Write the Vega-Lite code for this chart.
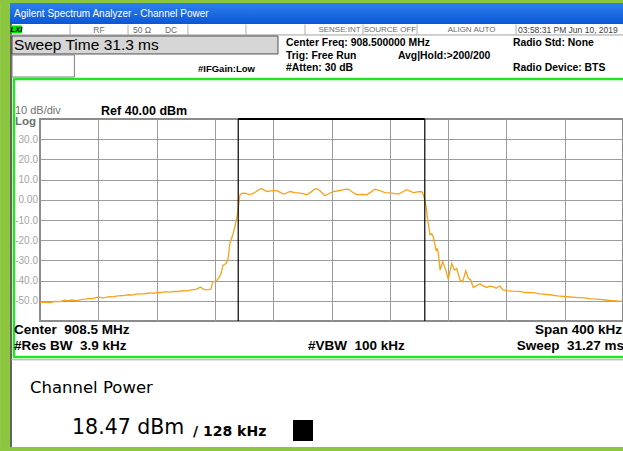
{
  "$schema": "https://vega.github.io/schema/vega-lite/v6.json",
  "autosize": {"type": "none"},
  "padding": {"left": 40, "top": 119, "right": 0, "bottom": 130},
  "width": 583,
  "height": 202,
  "background": "white",
  "data": {"values": [{}]},
  "resolve": {"axis": {"x": "independent", "y": "independent"}},
  "config": {
    "view": {"stroke": "#8c8c8c", "strokeWidth": 2},
    "text": {"font": "Liberation Sans", "baseline": "middle", "align": "left", "color": "#000000"}
  },
  "layer": [
    {"mark": {"type": "rule", "color": "#303030", "strokeWidth": 1.5}, "encoding": {"x": {"datum": -219.9, "type": "quantitative", "axis": null}, "y": {"datum": 87.0, "type": "quantitative", "axis": null}, "y2": {"datum": -122.4}}},
    {"mark": {"type": "rule", "color": "#22e622", "strokeWidth": 2.5}, "encoding": {"x": {"datum": -218.5, "type": "quantitative", "axis": null}, "x2": {"datum": 211.7}, "y": {"datum": 59.8, "type": "quantitative", "axis": null}}},
    {"mark": {"type": "rule", "color": "#22e622", "strokeWidth": 2.5}, "encoding": {"x": {"datum": -217.9, "type": "quantitative", "axis": null}, "y": {"datum": 59.8, "type": "quantitative", "axis": null}, "y2": {"datum": -77.8}}},
    {"mark": {"type": "rule", "color": "#22e622", "strokeWidth": 2.5}, "encoding": {"x": {"datum": -218.5, "type": "quantitative", "axis": null}, "x2": {"datum": 211.7}, "y": {"datum": -77.8, "type": "quantitative", "axis": null}}},
    {"mark": {"type": "rule", "color": "#a8a8a8", "strokeWidth": 1}, "encoding": {"x": {"datum": -219.9, "type": "quantitative", "axis": null}, "x2": {"datum": 211.7}, "y": {"datum": -79.2, "type": "quantitative", "axis": null}}},
    {
      "data": {"values": [
        {"f":-200,"p":-50.8},{"f":-196,"p":-50.6},{"f":-193,"p":-50.9},{"f":-190,"p":-50.3},{"f":-186,"p":-50.4},{"f":-183,"p":-49.7},{"f":-181,"p":-49.9},{"f":-178,"p":-49.6},{"f":-175,"p":-49.9},{"f":-172,"p":-49.4},{"f":-169,"p":-49.2},{"f":-166,"p":-48.8},{"f":-164,"p":-48.9},{"f":-161,"p":-48.3},{"f":-159.5,"p":-48.2},{"f":-157,"p":-48.5},{"f":-155,"p":-48.3},{"f":-152,"p":-47.9},{"f":-150,"p":-48.1},{"f":-147,"p":-47.6},{"f":-145,"p":-47.5},{"f":-142,"p":-47.3},{"f":-139,"p":-47.0},{"f":-137,"p":-47.2},{"f":-134,"p":-46.7},{"f":-131,"p":-46.6},{"f":-128,"p":-46.5},{"f":-125,"p":-46.1},{"f":-122,"p":-46.3},{"f":-120,"p":-45.8},{"f":-117,"p":-45.9},{"f":-114,"p":-45.5},{"f":-111,"p":-45.7},{"f":-108,"p":-45.3},{"f":-105,"p":-45.4},{"f":-102,"p":-45.0},{"f":-99,"p":-45.1},{"f":-96,"p":-44.6},{"f":-93,"p":-44.3},{"f":-91,"p":-43.6},{"f":-90,"p":-43.2},{"f":-89,"p":-43.7},{"f":-88,"p":-44.2},{"f":-86,"p":-44.6},{"f":-84,"p":-44.5},{"f":-82.7,"p":-44.2},{"f":-81.8,"p":-41.5},{"f":-81.3,"p":-40.5},{"f":-80,"p":-40.4},{"f":-78.8,"p":-40.0},{"f":-77.2,"p":-38.5},{"f":-75.8,"p":-36.5},{"f":-74.5,"p":-32.5},{"f":-73.5,"p":-32.0},{"f":-72.4,"p":-31.5},{"f":-71.0,"p":-29.5},{"f":-70.3,"p":-25},{"f":-69.7,"p":-21.5},{"f":-68.5,"p":-19},{"f":-67.4,"p":-16.5},{"f":-66.2,"p":-13.0},{"f":-64.6,"p":-7.5},{"f":-63.8,"p":-3},{"f":-63.3,"p":0},{"f":-62.8,"p":2.5},{"f":-61.5,"p":3.2},{"f":-59.3,"p":3.3},{"f":-57,"p":2.7},{"f":-54.8,"p":2.8},{"f":-51.8,"p":4.0},{"f":-49.5,"p":5.2},{"f":-47.9,"p":5.5},{"f":-46,"p":4.8},{"f":-44.5,"p":4.1},{"f":-41.5,"p":4.4},{"f":-37.6,"p":4.6},{"f":-35.5,"p":3.8},{"f":-33.1,"p":2.8},{"f":-31,"p":3.3},{"f":-28.5,"p":4.1},{"f":-25.0,"p":3.6},{"f":-21.6,"p":3.3},{"f":-19,"p":2.9},{"f":-17.0,"p":2.5},{"f":-14.1,"p":3.8},{"f":-11.5,"p":5.3},{"f":-10.2,"p":5.5},{"f":-7.9,"p":4.5},{"f":-4.5,"p":2.0},{"f":-2,"p":3.0},{"f":1.2,"p":4.1},{"f":5.8,"p":4.6},{"f":9,"p":5.2},{"f":11.5,"p":5.3},{"f":14,"p":4.0},{"f":17.3,"p":2.5},{"f":21,"p":2.7},{"f":24.1,"p":2.5},{"f":27,"p":3.8},{"f":29.8,"p":5.3},{"f":33,"p":4.6},{"f":36.7,"p":3.6},{"f":40.1,"p":3.4},{"f":45.8,"p":2.8},{"f":49,"p":4.0},{"f":51.6,"p":5.0},{"f":56.1,"p":3.6},{"f":60.7,"p":4.1},{"f":62.3,"p":3.8},{"f":63.0,"p":2.5},{"f":64.1,"p":0},{"f":65.2,"p":-5},{"f":66.0,"p":-10},{"f":67.6,"p":-17.4},{"f":68.7,"p":-16.8},{"f":69.8,"p":-18.2},{"f":71.7,"p":-24.8},{"f":72.5,"p":-24.2},{"f":73.3,"p":-26.5},{"f":74.5,"p":-34.8},{"f":76.3,"p":-30.6},{"f":78.4,"p":-34.8},{"f":80.1,"p":-39.4},{"f":82.5,"p":-31.5},{"f":84.3,"p":-34.8},{"f":85.9,"p":-34.0},{"f":88.2,"p":-39.7},{"f":90.0,"p":-40.6},{"f":92.1,"p":-35.1},{"f":93.9,"p":-38.9},{"f":95.5,"p":-39.7},{"f":97.3,"p":-43.4},{"f":99.5,"p":-42.5},{"f":101.9,"p":-41.7},{"f":104,"p":-42.6},{"f":106.5,"p":-43.4},{"f":108.5,"p":-42.8},{"f":111.0,"p":-43.0},{"f":113,"p":-43.8},{"f":115.6,"p":-42.7},{"f":117.5,"p":-44.6},{"f":120.2,"p":-45.0},{"f":124,"p":-45.2},{"f":129.3,"p":-45.3},{"f":133,"p":-45.9},{"f":138.5,"p":-46.0},{"f":143,"p":-46.6},{"f":149.9,"p":-47.0},{"f":155,"p":-47.6},{"f":161.4,"p":-48.0},{"f":167,"p":-48.3},{"f":173.9,"p":-48.6},{"f":178,"p":-49.0},{"f":184.2,"p":-49.3},{"f":188,"p":-49.6},{"f":192.4,"p":-49.9},{"f":196,"p":-50.1},{"f":199.1,"p":-50.2}
      ]},
      "mark": {"type": "line", "color": "#f7a21b", "strokeWidth": 1.3},
      "encoding": {
        "x": {"field": "f", "type": "quantitative", "scale": {"domain": [-200, 200], "nice": false, "zero": false},
              "axis": {"values": [-160,-120,-80,-40,0,40,80,120,160], "grid": true, "gridColor": "#9c9c9c", "gridWidth": 1, "labels": false, "ticks": false, "domain": false, "title": null}},
        "y": {"field": "p", "type": "quantitative", "scale": {"domain": [-60, 40], "nice": false, "zero": false},
              "axis": {"values": [-50,-40,-30,-20,-10,0,10,20,30], "grid": true, "gridColor": "#9c9c9c", "gridWidth": 1, "ticks": false, "domain": false, "title": null, "labelOverlap": false,
                       "labelExpr": "datum.value == 0 ? '0.00' : replace(format(datum.value, '.1f'), '\u2212', '-')", "labelColor": "#a4a4a4", "labelFont": "Liberation Sans", "labelFontSize": 10, "labelPadding": 2.5}}
      }
    },
    {"mark": {"type": "rule", "color": "#000000", "strokeWidth": 1.2},
     "encoding": {"x": {"datum": -64, "type": "quantitative", "axis": null}, "y": {"datum": -60, "type": "quantitative", "axis": null}, "y2": {"datum": 40}}},
    {"mark": {"type": "rule", "color": "#000000", "strokeWidth": 1.2},
     "encoding": {"x": {"datum": 64, "type": "quantitative", "axis": null}, "y": {"datum": -60, "type": "quantitative", "axis": null}, "y2": {"datum": 40}}},
    {"mark": {"type": "rule", "color": "#000000", "strokeWidth": 2},
     "encoding": {"x": {"datum": -64, "type": "quantitative", "axis": null}, "x2": {"datum": 64}, "y": {"datum": 40, "type": "quantitative", "axis": null}}},

    {"mark": {"type": "rect", "fill": "#8cc63f", "clip": false},
     "encoding": {"x": {"datum": -227.4, "type": "quantitative", "axis": null}, "x2": {"datum": -220.6}, "y": {"datum": 98.9, "type": "quantitative", "axis": null}, "y2": {"datum": -124.4}}},
    {"mark": {"type": "rect", "fill": "#8cc63f", "clip": false},
     "encoding": {"x": {"datum": -227.4, "type": "quantitative", "axis": null}, "x2": {"datum": 211.7}, "y": {"datum": 98.9, "type": "quantitative", "axis": null}, "y2": {"datum": 97.4}}},
    {"mark": {"type": "rect", "fill": "#8cc63f", "clip": false},
     "encoding": {"x": {"datum": -227.4, "type": "quantitative", "axis": null}, "x2": {"datum": 211.7}, "y": {"datum": -122.4, "type": "quantitative", "axis": null}, "y2": {"datum": -124.4}}},
    {"mark": {"type": "rect", "clip": false, "fill": {"gradient": "linear", "x1": 0, "y1": 0, "x2": 0, "y2": 1, "stops": [{"offset": 0, "color": "#2f80ee"}, {"offset": 1, "color": "#0a56d6"}]}},
     "encoding": {"x": {"datum": -220.6, "type": "quantitative", "axis": null}, "x2": {"datum": 211.7}, "y": {"datum": 97.4, "type": "quantitative", "axis": null}, "y2": {"datum": 87.0}}},
    {"mark": {"type": "text", "text": "Agilent Spectrum Analyzer - Channel Power", "fontSize": 10, "color": "#ffffff"},
     "encoding": {"x": {"datum": -217.8, "type": "quantitative", "axis": null}, "y": {"datum": 92.0, "type": "quantitative", "axis": null}}},

    {"mark": {"type": "rule", "color": "#a0a0a0", "strokeWidth": 1},
     "encoding": {"x": {"datum": -220.6, "type": "quantitative", "axis": null}, "x2": {"datum": 211.7}, "y": {"datum": 81.6, "type": "quantitative", "axis": null}}},
    {"mark": {"type": "rect", "fill": "#00e000", "clip": false},
     "encoding": {"x": {"datum": -219.9, "type": "quantitative", "axis": null}, "x2": {"datum": -212.4}, "y": {"datum": 86.3, "type": "quantitative", "axis": null}, "y2": {"datum": 82.4}}},
    {"mark": {"type": "text", "text": "LXI", "fontSize": 7.5, "fontWeight": "bold", "fontStyle": "italic", "align": "center"},
     "encoding": {"x": {"datum": -216.2, "type": "quantitative", "axis": null}, "y": {"datum": 84.3, "type": "quantitative", "axis": null}}},
    {"mark": {"type": "rule", "color": "#b0b0b0"}, "encoding": {"x": {"datum": -179.4, "type": "quantitative", "axis": null}, "y": {"datum": 86.8, "type": "quantitative", "axis": null}, "y2": {"datum": 81.6}}},
    {"mark": {"type": "rule", "color": "#b0b0b0"}, "encoding": {"x": {"datum": -139.6, "type": "quantitative", "axis": null}, "y": {"datum": 86.8, "type": "quantitative", "axis": null}, "y2": {"datum": 81.6}}},
    {"mark": {"type": "rule", "color": "#b0b0b0"}, "encoding": {"x": {"datum": -98.5, "type": "quantitative", "axis": null}, "y": {"datum": 86.8, "type": "quantitative", "axis": null}, "y2": {"datum": 81.6}}},
    {"mark": {"type": "rule", "color": "#b0b0b0"}, "encoding": {"x": {"datum": -58.7, "type": "quantitative", "axis": null}, "y": {"datum": 86.8, "type": "quantitative", "axis": null}, "y2": {"datum": 81.6}}},
    {"mark": {"type": "rule", "color": "#b0b0b0"}, "encoding": {"x": {"datum": -18.2, "type": "quantitative", "axis": null}, "y": {"datum": 86.8, "type": "quantitative", "axis": null}, "y2": {"datum": 81.6}}},
    {"mark": {"type": "rule", "color": "#b0b0b0"}, "encoding": {"x": {"datum": 21.6, "type": "quantitative", "axis": null}, "y": {"datum": 86.8, "type": "quantitative", "axis": null}, "y2": {"datum": 81.6}}},
    {"mark": {"type": "rule", "color": "#b0b0b0"}, "encoding": {"x": {"datum": 58.7, "type": "quantitative", "axis": null}, "y": {"datum": 86.8, "type": "quantitative", "axis": null}, "y2": {"datum": 81.6}}},
    {"mark": {"type": "rule", "color": "#b0b0b0"}, "encoding": {"x": {"datum": 126.6, "type": "quantitative", "axis": null}, "y": {"datum": 86.8, "type": "quantitative", "axis": null}, "y2": {"datum": 81.6}}},
    {"mark": {"type": "text", "text": "RF", "fontSize": 8.5, "color": "#6a6a6a", "align": "center"}, "encoding": {"x": {"datum": -159.5, "type": "quantitative", "axis": null}, "y": {"datum": 84.1, "type": "quantitative", "axis": null}}},
    {"mark": {"type": "text", "text": "50 Ω", "fontSize": 8.5, "color": "#6a6a6a", "align": "center"}, "encoding": {"x": {"datum": -130.0, "type": "quantitative", "axis": null}, "y": {"datum": 84.1, "type": "quantitative", "axis": null}}},
    {"mark": {"type": "text", "text": "DC", "fontSize": 8.5, "color": "#6a6a6a", "align": "center"}, "encoding": {"x": {"datum": -110.1, "type": "quantitative", "axis": null}, "y": {"datum": 84.1, "type": "quantitative", "axis": null}}},
    {"mark": {"type": "text", "text": "SENSE:INT", "fontSize": 8, "color": "#6a6a6a", "align": "center"}, "encoding": {"x": {"datum": 5.5, "type": "quantitative", "axis": null}, "y": {"datum": 84.1, "type": "quantitative", "axis": null}}},
    {"mark": {"type": "text", "text": "SOURCE OFF", "fontSize": 8, "color": "#6a6a6a", "align": "center"}, "encoding": {"x": {"datum": 40.1, "type": "quantitative", "axis": null}, "y": {"datum": 84.1, "type": "quantitative", "axis": null}}},
    {"mark": {"type": "text", "text": "ALIGN AUTO", "fontSize": 8, "color": "#6a6a6a", "align": "center"}, "encoding": {"x": {"datum": 96.1, "type": "quantitative", "axis": null}, "y": {"datum": 84.1, "type": "quantitative", "axis": null}}},
    {"mark": {"type": "text", "text": "03:58:31 PM Jun 10, 2019", "fontSize": 8.5, "color": "#404040"}, "encoding": {"x": {"datum": 128.0, "type": "quantitative", "axis": null}, "y": {"datum": 84.1, "type": "quantitative", "axis": null}}},

    {"mark": {"type": "rect", "fill": "#d6d6d6", "stroke": "#505050", "strokeWidth": 1, "clip": false},
     "encoding": {"x": {"datum": -219.2, "type": "quantitative", "axis": null}, "x2": {"datum": -36.7}, "y": {"datum": 81.1, "type": "quantitative", "axis": null}, "y2": {"datum": 72.2}}},
    {"mark": {"type": "text", "text": "Sweep Time 31.3 ms", "fontSize": 15.5}, "encoding": {"x": {"datum": -217.8, "type": "quantitative", "axis": null}, "y": {"datum": 76.6, "type": "quantitative", "axis": null}}},
    {"mark": {"type": "rect", "fill": "#ffffff", "stroke": "#808080", "strokeWidth": 1, "clip": false},
     "encoding": {"x": {"datum": -219.2, "type": "quantitative", "axis": null}, "x2": {"datum": -176.4}, "y": {"datum": 71.7, "type": "quantitative", "axis": null}, "y2": {"datum": 60.8}}},
    {"mark": {"type": "text", "text": "#IFGain:Low", "fontSize": 9.5, "fontWeight": "bold"}, "encoding": {"x": {"datum": -91.6, "type": "quantitative", "axis": null}, "y": {"datum": 64.8, "type": "quantitative", "axis": null}}},
    {"mark": {"type": "text", "text": "Center Freq: 908.500000 MHz", "fontSize": 10.4, "fontWeight": "bold"}, "encoding": {"x": {"datum": -31.2, "type": "quantitative", "axis": null}, "y": {"datum": 77.6, "type": "quantitative", "axis": null}}},
    {"mark": {"type": "text", "text": "Trig: Free Run", "fontSize": 10.4, "fontWeight": "bold"}, "encoding": {"x": {"datum": -31.2, "type": "quantitative", "axis": null}, "y": {"datum": 71.2, "type": "quantitative", "axis": null}}},
    {"mark": {"type": "text", "text": "#Atten: 30 dB", "fontSize": 10.4, "fontWeight": "bold"}, "encoding": {"x": {"datum": -31.2, "type": "quantitative", "axis": null}, "y": {"datum": 65.2, "type": "quantitative", "axis": null}}},
    {"mark": {"type": "text", "text": "Avg|Hold:>200/200", "fontSize": 10.4, "fontWeight": "bold"}, "encoding": {"x": {"datum": 45.6, "type": "quantitative", "axis": null}, "y": {"datum": 71.2, "type": "quantitative", "axis": null}}},
    {"mark": {"type": "text", "text": "Radio Std: None", "fontSize": 10.4, "fontWeight": "bold"}, "encoding": {"x": {"datum": 124.5, "type": "quantitative", "axis": null}, "y": {"datum": 77.6, "type": "quantitative", "axis": null}}},
    {"mark": {"type": "text", "text": "Radio Device: BTS", "fontSize": 10.4, "fontWeight": "bold"}, "encoding": {"x": {"datum": 124.5, "type": "quantitative", "axis": null}, "y": {"datum": 65.2, "type": "quantitative", "axis": null}}},

    {"mark": {"type": "text", "text": "10 dB/div", "fontSize": 11, "color": "#707070"}, "encoding": {"x": {"datum": -217.2, "type": "quantitative", "axis": null}, "y": {"datum": 44.0, "type": "quantitative", "axis": null}}},
    {"mark": {"type": "text", "text": "Ref 40.00 dBm", "fontSize": 12.5, "fontWeight": "bold"}, "encoding": {"x": {"datum": -158.1, "type": "quantitative", "axis": null}, "y": {"datum": 44.0, "type": "quantitative", "axis": null}}},
    {"mark": {"type": "text", "text": "Log", "fontSize": 11.5, "fontWeight": "bold", "color": "#707070"}, "encoding": {"x": {"datum": -217.2, "type": "quantitative", "axis": null}, "y": {"datum": 38.5, "type": "quantitative", "axis": null}}},

    {"mark": {"type": "text", "text": "Center\u00a0 908.5 MHz", "fontSize": 13.5, "fontWeight": "bold"}, "encoding": {"x": {"datum": -217.8, "type": "quantitative", "axis": null}, "y": {"datum": -64.5, "type": "quantitative", "axis": null}}},
    {"mark": {"type": "text", "text": "Span 400 kHz", "fontSize": 13.5, "fontWeight": "bold", "align": "right"}, "encoding": {"x": {"datum": 199.3, "type": "quantitative", "axis": null}, "y": {"datum": -64.5, "type": "quantitative", "axis": null}}},
    {"mark": {"type": "text", "text": "#Res BW\u00a0 3.9 kHz", "fontSize": 13.5, "fontWeight": "bold"}, "encoding": {"x": {"datum": -217.8, "type": "quantitative", "axis": null}, "y": {"datum": -72.4, "type": "quantitative", "axis": null}}},
    {"mark": {"type": "text", "text": "#VBW\u00a0 100 kHz", "fontSize": 13.5, "fontWeight": "bold"}, "encoding": {"x": {"datum": -16.1, "type": "quantitative", "axis": null}, "y": {"datum": -72.4, "type": "quantitative", "axis": null}}},
    {"mark": {"type": "text", "text": "Sweep\u00a0 31.27 ms", "fontSize": 13.5, "fontWeight": "bold", "align": "right"}, "encoding": {"x": {"datum": 200.7, "type": "quantitative", "axis": null}, "y": {"datum": -72.4, "type": "quantitative", "axis": null}}},

    {"mark": {"type": "text", "text": "Channel Power", "font": "DejaVu Sans", "fontSize": 16.5, "baseline": "alphabetic"}, "encoding": {"x": {"datum": -206.9, "type": "quantitative", "axis": null}, "y": {"datum": -95.6, "type": "quantitative", "axis": null}}},
    {"mark": {"type": "text", "text": "18.47 dBm", "font": "DejaVu Sans", "fontSize": 20.5, "baseline": "alphabetic"}, "encoding": {"x": {"datum": -178.0, "type": "quantitative", "axis": null}, "y": {"datum": -115.9, "type": "quantitative", "axis": null}}},
    {"mark": {"type": "text", "text": "/ 128 kHz", "font": "DejaVu Sans", "fontSize": 14, "fontWeight": "bold", "baseline": "alphabetic"}, "encoding": {"x": {"datum": -95.0, "type": "quantitative", "axis": null}, "y": {"datum": -116.9, "type": "quantitative", "axis": null}}},
    {"mark": {"type": "rect", "fill": "#000000", "clip": false},
     "encoding": {"x": {"datum": -26.4, "type": "quantitative", "axis": null}, "x2": {"datum": -12.7}, "y": {"datum": -109.0, "type": "quantitative", "axis": null}, "y2": {"datum": -119.4}}}
  ]
}
